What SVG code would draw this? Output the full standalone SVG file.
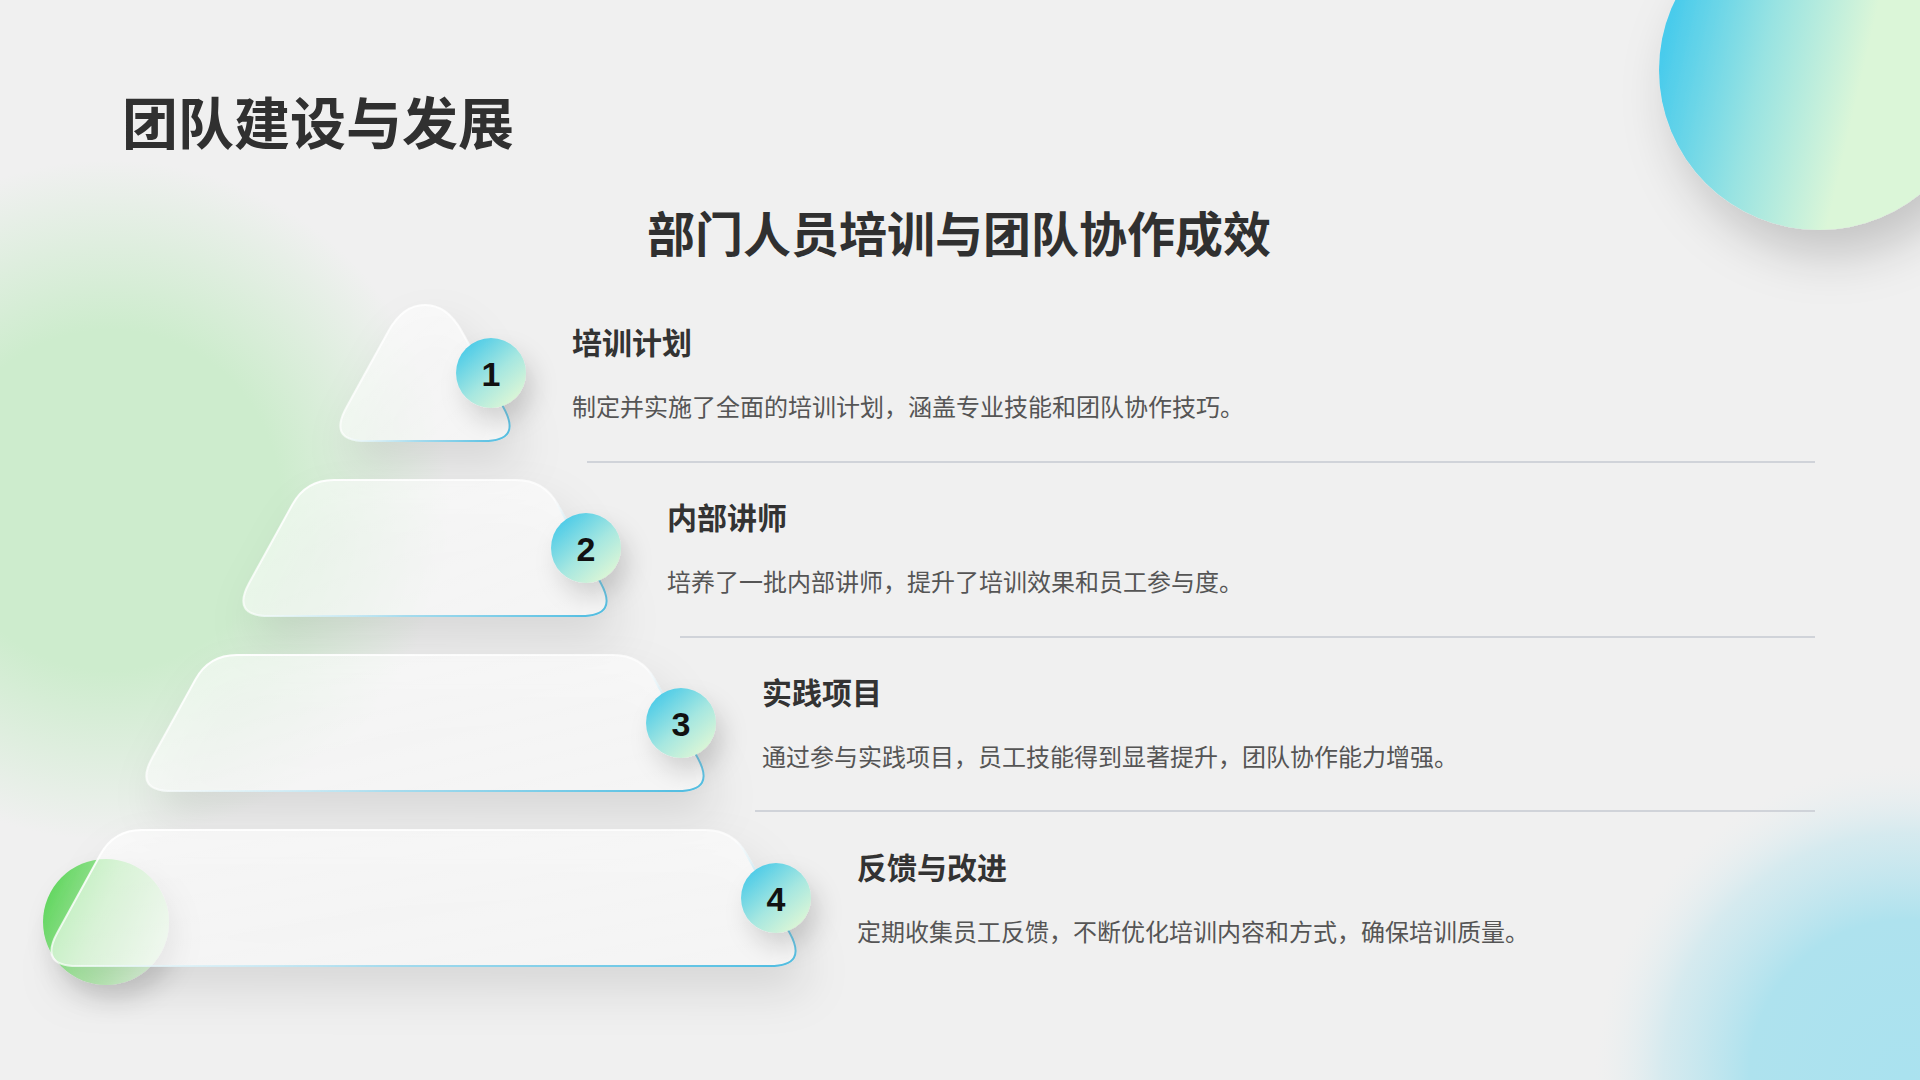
<svg xmlns="http://www.w3.org/2000/svg" width="1920" height="1080" viewBox="0 0 1920 1080">
  <defs>
    <radialGradient id="glowGreen" cx="110" cy="500" r="340" gradientUnits="userSpaceOnUse">
      <stop offset="0" stop-color="#cdeccd" stop-opacity="1"/>
      <stop offset="0.5" stop-color="#cdeccd" stop-opacity="1"/>
      <stop offset="0.75" stop-color="#cdeccd" stop-opacity="0.5"/>
      <stop offset="1" stop-color="#cdeccd" stop-opacity="0"/>
    </radialGradient>
    <radialGradient id="glowBlue" cx="1905" cy="1075" r="310" gradientUnits="userSpaceOnUse">
      <stop offset="0" stop-color="#aae2ef" stop-opacity="1"/>
      <stop offset="0.5" stop-color="#aee2ee" stop-opacity="1"/>
      <stop offset="0.78" stop-color="#c4e6ee" stop-opacity="0.6"/>
      <stop offset="1" stop-color="#e6eef0" stop-opacity="0"/>
    </radialGradient>
    <linearGradient id="bigCircle" x1="1665" y1="40" x2="1860" y2="85" gradientUnits="userSpaceOnUse">
      <stop offset="0" stop-color="#48cbec"/>
      <stop offset="0.5" stop-color="#98e3e2"/>
      <stop offset="1" stop-color="#dbf6d8"/>
    </linearGradient>
    <linearGradient id="numCircle" x1="0.15" y1="0.1" x2="0.85" y2="0.9">
      <stop offset="0" stop-color="#4ccbe8"/>
      <stop offset="0.55" stop-color="#a6e7e0"/>
      <stop offset="1" stop-color="#dcf6d6"/>
    </linearGradient>
    <linearGradient id="greenCircle" x1="0" y1="0.3" x2="1" y2="0.7">
      <stop offset="0" stop-color="#5ed65c"/>
      <stop offset="0.45" stop-color="#a9e8a4"/>
      <stop offset="1" stop-color="#e4f8e2"/>
    </linearGradient>
    <linearGradient id="glassFill" x1="0" y1="0" x2="1" y2="1">
      <stop offset="0" stop-color="#ffffff" stop-opacity="0.55"/>
      <stop offset="1" stop-color="#ffffff" stop-opacity="0.6"/>
    </linearGradient>
    <linearGradient id="glassStroke" x1="0" y1="0" x2="1" y2="1">
      <stop offset="0" stop-color="#ffffff" stop-opacity="1"/>
      <stop offset="0.5" stop-color="#ffffff" stop-opacity="0.7"/>
      <stop offset="0.72" stop-color="#a7dcee"/>
      <stop offset="1" stop-color="#4dbde2"/>
    </linearGradient>
    <filter id="shapeShadow" x="-20%" y="-40%" width="150%" height="200%">
      <feDropShadow dx="10" dy="24" stdDeviation="22" flood-color="#000000" flood-opacity="0.17"/>
    </filter>
    <filter id="circleShadow" x="-80%" y="-80%" width="260%" height="260%">
      <feDropShadow dx="8" dy="14" stdDeviation="12" flood-color="#000000" flood-opacity="0.15"/>
    </filter>
    <filter id="bigShadow" x="-40%" y="-40%" width="180%" height="180%">
      <feDropShadow dx="12" dy="26" stdDeviation="24" flood-color="#000000" flood-opacity="0.18"/>
    </filter>
  </defs>
  <style>
    .glass { fill: url(#glassFill); stroke: url(#glassStroke); stroke-width: 2; filter: url(#shapeShadow); }
    .num { fill: url(#numCircle); filter: url(#circleShadow); }
    .numtext { font-family: "Liberation Sans", Arial, sans-serif; font-weight: bold; font-size: 34px; fill: #111111; text-anchor: middle; }
    .head { font-family: "Noto Sans CJK SC", "Noto Sans", sans-serif; font-weight: bold; font-size: 30px; fill: #333333; }
    .desc { font-family: "Noto Sans CJK SC", "Noto Sans", sans-serif; font-size: 24px; fill: #555555; }
    .divider { stroke: #c6cad2; stroke-width: 1.5; }
  </style>

  <rect x="0" y="0" width="1920" height="1080" fill="#f0f0f0"/>
  <rect x="0" y="0" width="700" height="1000" fill="url(#glowGreen)"/>
  <rect x="1500" y="700" width="420" height="380" fill="url(#glowBlue)"/>

  <g id="deco-circle-top-right">
    <circle cx="1819" cy="70" r="160" fill="url(#bigCircle)" filter="url(#bigShadow)"/>
  </g>

  <g id="title">
    <text x="122" y="144" font-family="'Noto Sans CJK SC', 'Noto Sans', sans-serif" font-weight="bold" font-size="56" fill="#303030">团队建设与发展</text>
  </g>
  <g id="subtitle">
    <text x="959" y="252" text-anchor="middle" font-family="'Noto Sans CJK SC', 'Noto Sans', sans-serif" font-weight="bold" font-size="48" fill="#303030">部门人员培训与团队协作成效</text>
  </g>

  <g id="deco-circle-green">
    <circle cx="106" cy="922" r="63" fill="url(#greenCircle)" filter="url(#circleShadow)"/>
  </g>

  <g id="dividers">
    <line class="divider" x1="587" y1="462" x2="1815" y2="462"/>
    <line class="divider" x1="680" y1="637" x2="1815" y2="637"/>
    <line class="divider" x1="755" y1="811" x2="1815" y2="811"/>
  </g>

  <g id="step-1">
    <path class="glass" d="M366,441 Q328,441 346.35,407.72 L388.51,331.27 Q403,305 425,305 Q447,305 461.49,331.27 L503.65,407.72 Q522,441 484,441 Z"/>
    <circle class="num" cx="491" cy="373" r="35"/>
    <text class="numtext" x="491" y="386">1</text>
    <text class="head" x="572" y="354">培训计划</text>
    <text class="desc" x="572" y="416">制定并实施了全面的培训计划，涵盖专业技能和团队协作技巧。</text>
  </g>

  <g id="step-2">
    <path class="glass" d="M269,616 Q231,616 249.35,582.72 L292.48,504.52 Q306,480 334,480 L516,480 Q544,480 557.52,504.52 L600.65,582.72 Q619,616 581,616 Z"/>
    <circle class="num" cx="586" cy="548" r="35"/>
    <text class="numtext" x="586" y="561">2</text>
    <text class="head" x="667" y="529">内部讲师</text>
    <text class="desc" x="667" y="591">培养了一批内部讲师，提升了培训效果和员工参与度。</text>
  </g>

  <g id="step-3">
    <path class="glass" d="M172,791 Q134,791 152.35,757.72 L195.48,679.52 Q209,655 237,655 L613,655 Q641,655 654.52,679.52 L697.65,757.72 Q716,791 678,791 Z"/>
    <circle class="num" cx="681" cy="723" r="35"/>
    <text class="numtext" x="681" y="736">3</text>
    <text class="head" x="762" y="704">实践项目</text>
    <text class="desc" x="762" y="766">通过参与实践项目，员工技能得到显著提升，团队协作能力增强。</text>
  </g>

  <g id="step-4">
    <path class="glass" d="M77,966 Q39,966 57.35,932.72 L100.48,854.52 Q114,830 142,830 L705,830 Q733,830 746.52,854.52 L789.65,932.72 Q808,966 770,966 Z"/>
    <circle class="num" cx="776" cy="898" r="35"/>
    <text class="numtext" x="776" y="911">4</text>
    <text class="head" x="857" y="879">反馈与改进</text>
    <text class="desc" x="857" y="941">定期收集员工反馈，不断优化培训内容和方式，确保培训质量。</text>
  </g>
</svg>
